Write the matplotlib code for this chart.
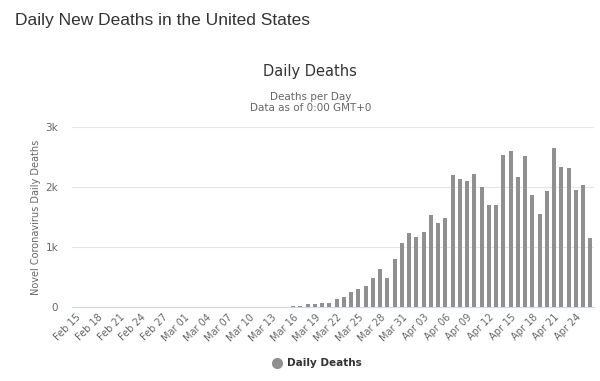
import numpy as np
import pandas as pd
import matplotlib
matplotlib.use("Agg")
import matplotlib.pyplot as plt

# daily deaths, Feb 15 .. Apr 26 2020
dates = pd.date_range("2020-02-15", "2020-04-26", freq="D")
early = [0] * 30  # Feb 15 .. Mar 15, too small to see
later = [15, 17, 40, 52, 55, 55, 122, 168, 250, 290,
         340, 480, 636, 480, 803, 1065, 1232, 1165, 1243, 1528,
         1400, 1483, 2208, 2136, 2097, 2219, 2002, 1706, 1706, 2543,
         2610, 2169, 2515, 1862, 1550, 1935, 2654, 2336, 2320, 1946,
         2041, 1149]
deaths = early + later
labels = [d.strftime("%b %d") for d in dates]

fig = plt.figure(figsize=(6, 3.81), dpi=100)
ax = fig.add_axes([0.12, 0.195, 0.87, 0.471])

x = np.arange(len(deaths))
ax.bar(x, deaths, width=0.55, color="#909090", zorder=3)

ax.set_xlim(-0.5, len(deaths) - 0.5)
ax.set_ylim(0, 3000)
ax.set_yticks([0, 1000, 2000, 3000])
ax.set_yticklabels(["0", "1k", "2k", "3k"])
ax.yaxis.grid(True, color="#e6e6e6", lw=0.8, zorder=0)
for s in ["top", "right", "left"]:
    ax.spines[s].set_visible(False)
ax.spines["bottom"].set_color("#ccd6eb")
ax.tick_params(axis="y", length=0, pad=10, labelsize=7.5, labelcolor="#666666")
ax.tick_params(axis="x", length=0, pad=4, labelsize=7, labelcolor="#666666")

ax.set_xticks(x[::3])
ax.set_xticklabels(labels[::3], rotation=45, ha="right", rotation_mode="anchor")
ax.set_ylabel("Novel Coronavirus Daily Deaths", color="#666666", fontsize=7, labelpad=3)

fig.text(0.025, 0.945, "Daily New Deaths in the United States", fontsize=12.5,
         family="Liberation Sans", color="#333333", va="center")
fig.text(0.517, 0.812, "Daily Deaths", fontsize=10.5, color="#333333", ha="center", va="center")
fig.text(0.517, 0.745, "Deaths per Day", fontsize=7.5, color="#666666", ha="center", va="center")
fig.text(0.517, 0.716, "Data as of 0:00 GMT+0", fontsize=7.5, color="#666666", ha="center", va="center")

fig.lines.append(plt.Line2D([0.462], [0.047], marker="o", markersize=7, color="#909090",
                            transform=fig.transFigure))
fig.text(0.478, 0.047, "Daily Deaths", fontsize=7.5, weight="bold", color="#333333", va="center")

fig.savefig("out.png", dpi=100)
